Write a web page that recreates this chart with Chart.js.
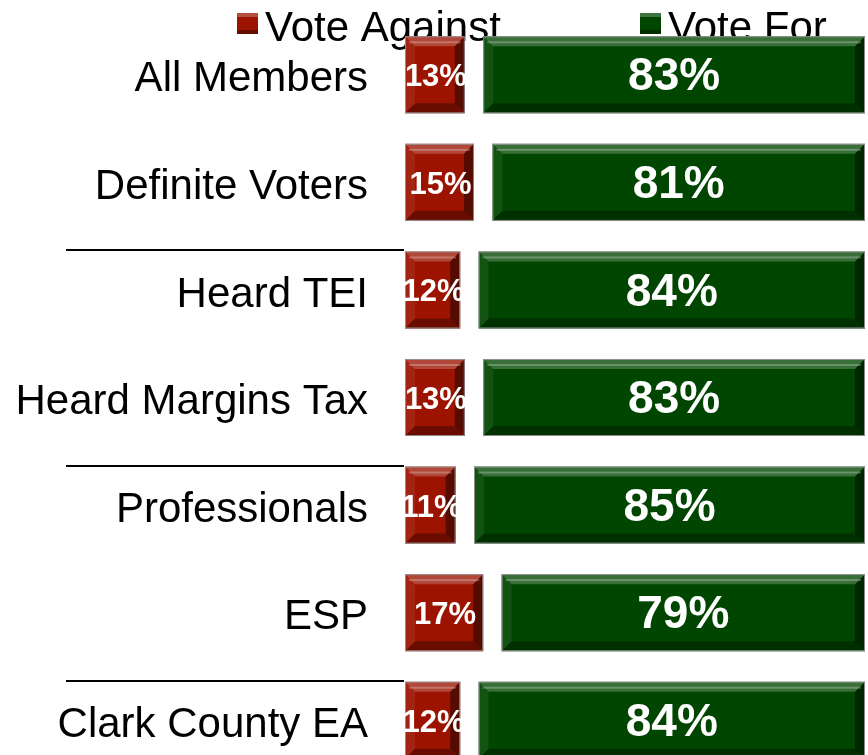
<!DOCTYPE html>
<html>
<head>
<meta charset="utf-8">
<script src="https://cdn.jsdelivr.net/npm/chart.js@4"></script>
<style>
  html, body { margin: 0; padding: 0; background: #fff; overflow: hidden; }
  #wrap { width: 868px; height: 755px; overflow: hidden; }
</style>
</head>
<body>
<div id="wrap"><canvas id="voteChart" width="868" height="776"></canvas></div>
<script>
// categories, top to bottom
const groups = ["All Members", "Definite Voters", "Heard TEI", "Heard Margins Tax", "Professionals", "ESP", "Clark County EA"];
const voteAgainst = [13, 15, 12, 13, 11, 17, 12];
const undecided = [4, 4, 4, 4, 4, 4, 4];   // the blank gap between the two bars
const voteFor = [83, 81, 84, 83, 85, 79, 84];
// a line is drawn above these groups
const dividerBefore = [2, 4, 6];

const RED = "#9c1400";
const GREEN = "#004600";
const FONT = "'Liberation Sans', Arial, sans-serif";

// bevel look on each bar + white value labels
const bevelPlugin = {
  id: "bevel",
  beforeDatasetsDraw(chart) {
    const ctx = chart.ctx;
    ctx.save();
    // legend (drawn under the bars, like the original)
    const items = [["Vote Against", RED, 237], ["Vote For", GREEN, 640]];
    ctx.font = "42px " + FONT;
    ctx.textBaseline = "alphabetic";
    ctx.textAlign = "left";
    items.forEach(([txt, col, lx]) => {
      ctx.fillStyle = col;
      ctx.fillRect(lx, 13, 21, 21);
      ctx.fillStyle = "rgba(255,255,255,0.25)";
      ctx.fillRect(lx, 13, 21, 4);
      ctx.fillStyle = "rgba(0,0,0,0.35)";
      ctx.fillRect(lx, 30, 21, 4);
      ctx.fillStyle = "#000";
      ctx.fillText(txt, lx + 28, 41);
    });
    // group dividers
    const y = chart.scales.y;
    const half = 77 / 2;
    ctx.strokeStyle = "#000";
    ctx.lineWidth = 2;
    dividerBefore.forEach(i => {
      const py = Math.round(y.getPixelForValue(i) - half) - 1;
      ctx.beginPath();
      ctx.moveTo(66, py);
      ctx.lineTo(chart.chartArea.left - 1, py);
      ctx.stroke();
    });
    ctx.restore();
  },
  afterDatasetsDraw(chart) {
    const ctx = chart.ctx;
    ctx.save();
    [0, 2].forEach(di => {
      const meta = chart.getDatasetMeta(di);
      meta.data.forEach((el, i) => {
        const p = el.getProps(["x", "y", "base", "height"], true);
        const l = Math.min(p.x, p.base), r = Math.max(p.x, p.base);
        const t = p.y - p.height / 2, b = p.y + p.height / 2;
        const bw = 10;
        const poly = (pts, fill) => {
          ctx.beginPath();
          ctx.moveTo(pts[0][0], pts[0][1]);
          pts.slice(1).forEach(q => ctx.lineTo(q[0], q[1]));
          ctx.closePath();
          ctx.fillStyle = fill;
          ctx.fill();
        };
        poly([[l, t], [r, t], [r - bw, t + bw], [l + bw, t + bw]], "rgba(255,255,255,0.22)");
        poly([[l, b], [r, b], [r - bw, b - bw], [l + bw, b - bw]], "rgba(0,0,0,0.32)");
        poly([[l, t], [l + bw, t + bw], [l + bw, b - bw], [l, b]], "rgba(255,255,255,0.07)");
        poly([[r, t], [r - bw, t + bw], [r - bw, b - bw], [r, b]], "rgba(0,0,0,0.45)");
        ctx.fillStyle = "rgba(255,255,255,0.25)";
        ctx.fillRect(l + 4, t + 5, r - l - 8, 2);
        ctx.strokeStyle = "rgba(150,150,150,0.9)";
        ctx.lineWidth = 1;
        ctx.strokeRect(l + 0.5, t + 0.5, r - l - 1, b - t - 1);

        const val = chart.data.datasets[di].data[i];
        ctx.fillStyle = "#fff";
        ctx.textAlign = "center";
        ctx.textBaseline = "middle";
        ctx.font = (di === 0 ? "bold 31px " : "bold 46px ") + FONT;
        ctx.fillText(val + "%", (l + r) / 2 + (di === 0 ? 1 : 0), p.y + 3);
      });
    });
    ctx.restore();
  }
};

const ctx = document.getElementById("voteChart").getContext("2d");
new Chart(ctx, {
  type: "bar",
  data: {
    labels: groups,
    datasets: [
      { label: "Vote Against", data: voteAgainst, backgroundColor: RED },
      { label: "Undecided", data: undecided, backgroundColor: "rgba(0,0,0,0)" },
      { label: "Vote For", data: voteFor, backgroundColor: GREEN }
    ]
  },
  options: {
    indexAxis: "y",
    responsive: false,
    animation: false,
    layout: { padding: { top: 21, right: 3, bottom: 2, left: 0 } },
    datasets: { bar: { categoryPercentage: 1, barPercentage: 0.716, borderWidth: 0 } },
    plugins: { legend: { display: false }, tooltip: { enabled: false } },
    scales: {
      x: { stacked: true, min: 0, max: 100, display: false },
      y: {
        stacked: true,
        border: { display: false },
        grid: { display: false, drawTicks: false },
        ticks: { autoSkip: false, padding: 37, labelOffset: 5, color: "#000", font: { family: FONT, size: 42 } },
        afterFit(scale) {
          scale.width = 405;
          scale.paddingTop = 0;
          scale.paddingBottom = 0;
        }
      }
    }
  },
  plugins: [bevelPlugin]
});
</script>
</body>
</html>
